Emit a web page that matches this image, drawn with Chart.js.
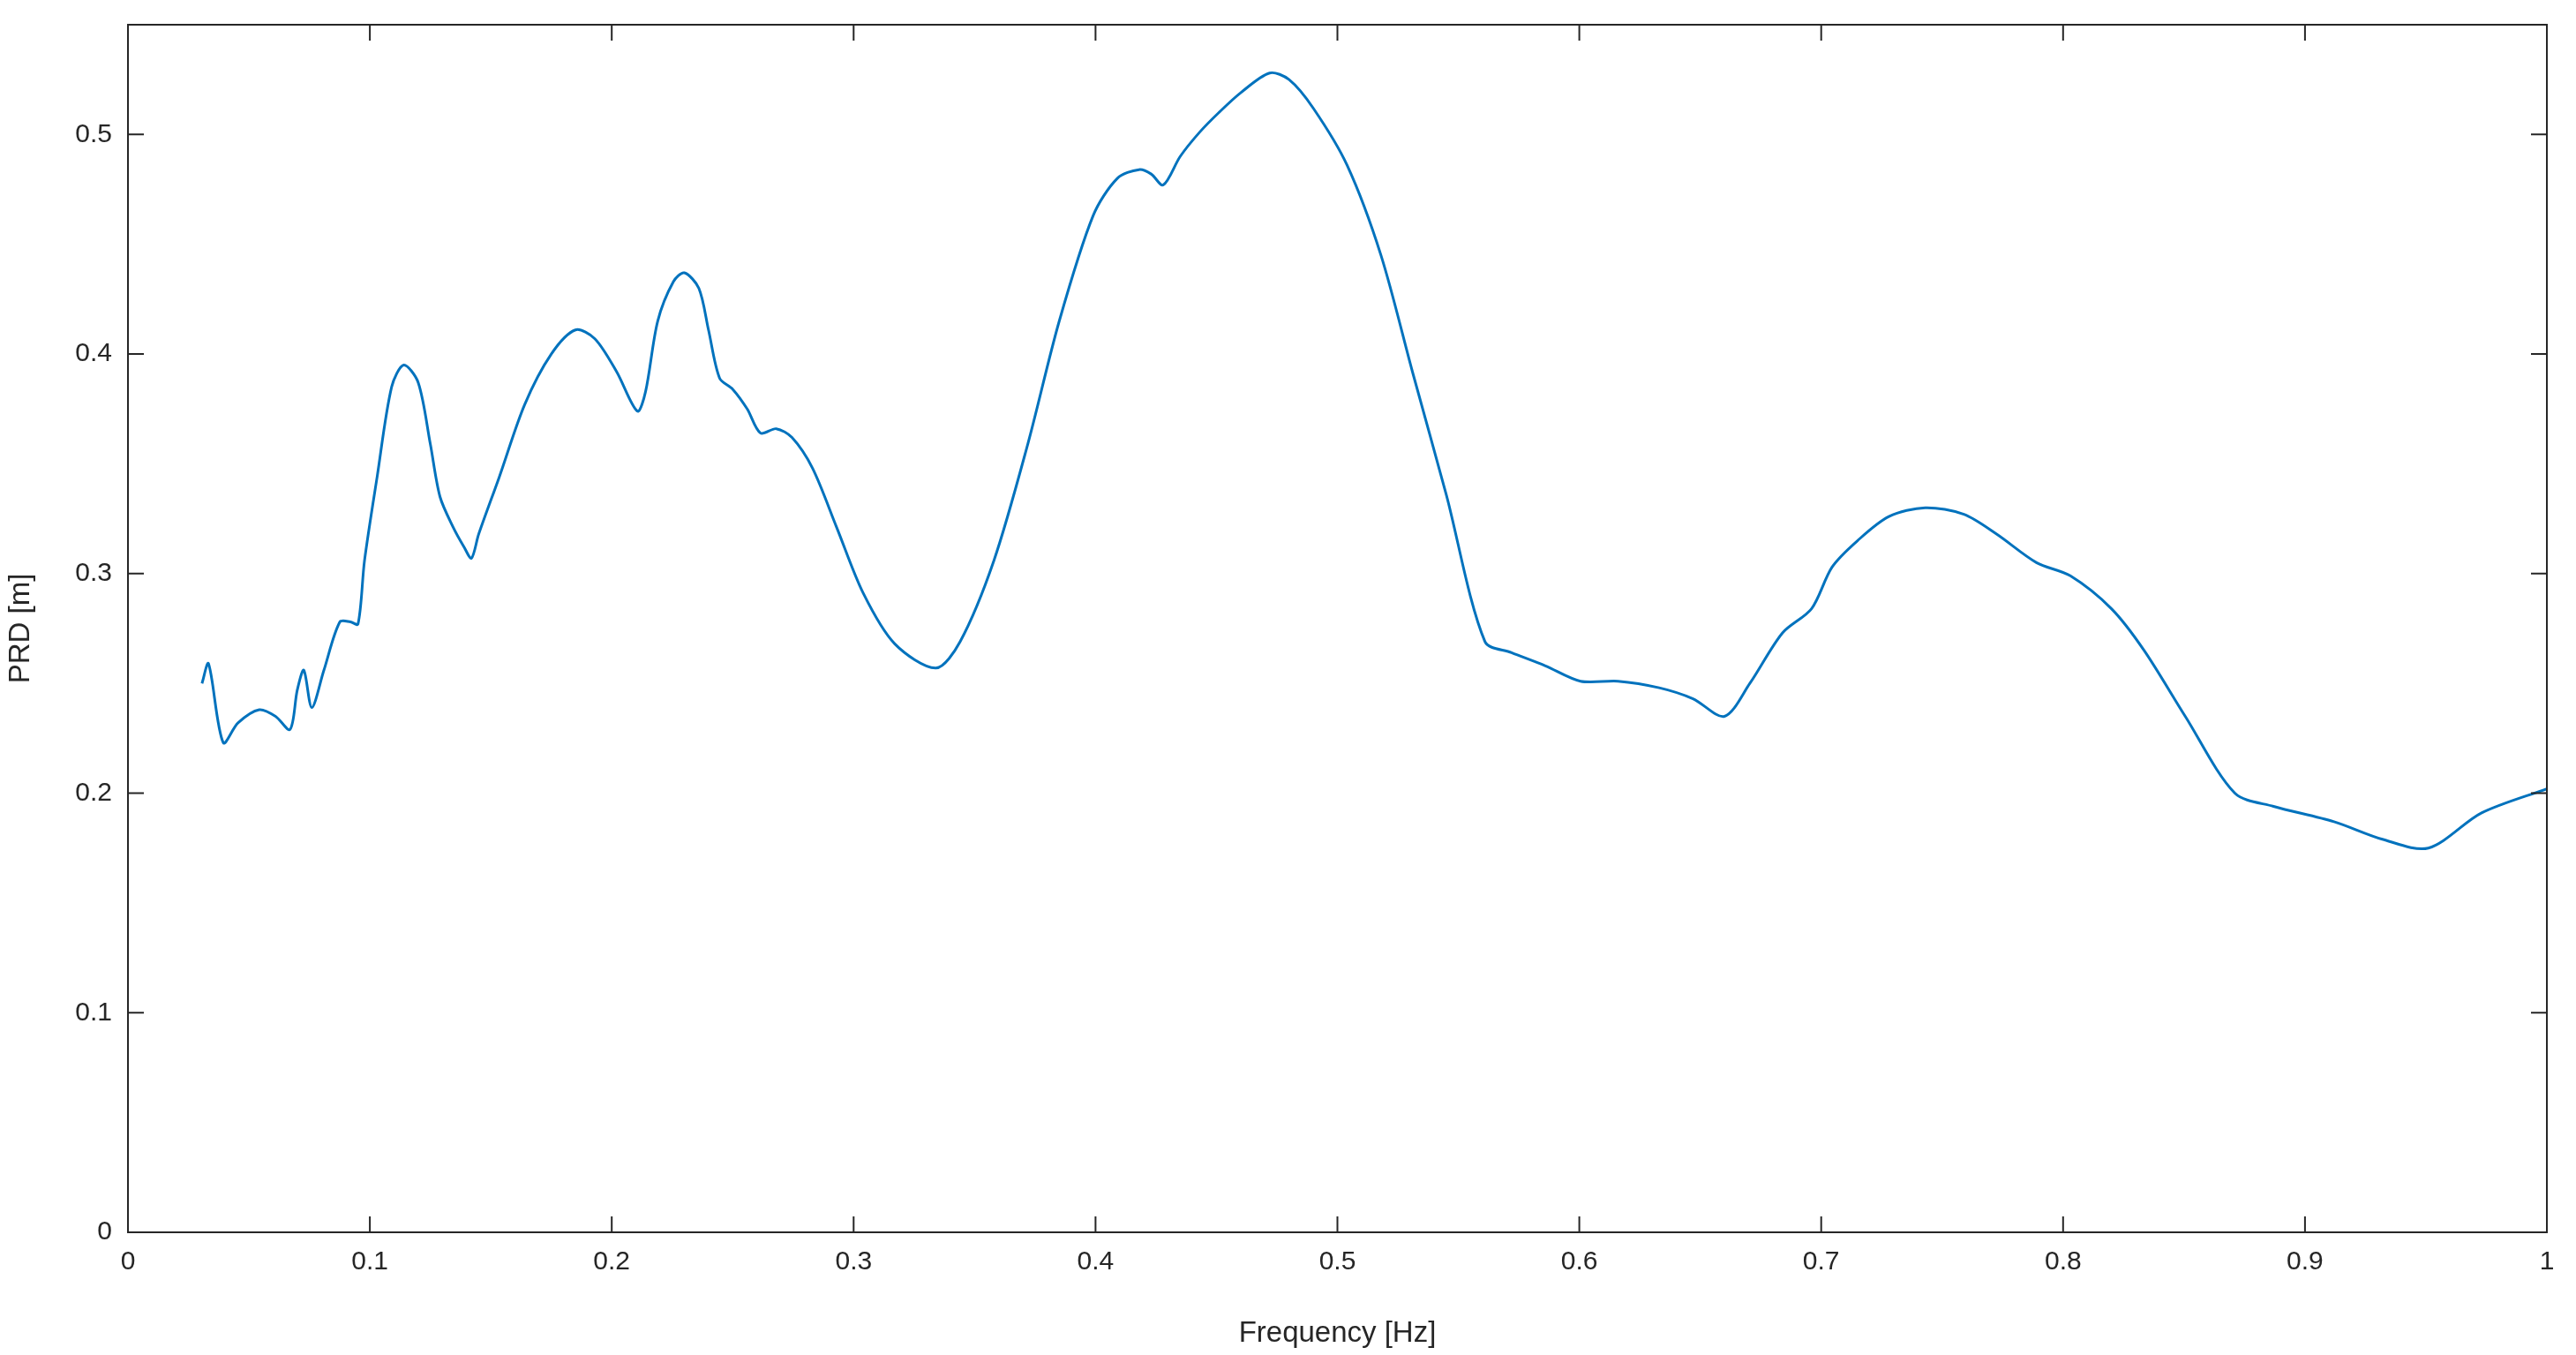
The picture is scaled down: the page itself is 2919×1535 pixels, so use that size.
<!DOCTYPE html>
<html><head><meta charset="utf-8">
<script src="https://cdn.jsdelivr.net/npm/chart.js@4/dist/chart.umd.min.js"></script>
<style>html,body{margin:0;background:#fff}#c{display:block}</style>
</head><body><canvas id="c" width="2919" height="1535"></canvas>
<script>
// frequency [Hz] and PRD [m]
const freq = [0.0306,0.0333,0.0394,0.0455,0.0543,0.061,0.067,0.070,0.0727,0.076,0.081,0.0876,0.092,0.0951,0.0978,0.103,0.109,0.114,0.120,0.125,0.129,0.1345,0.139,0.142,0.145,0.1535,0.164,0.175,0.185,0.193,0.202,0.2106,0.214,0.219,0.2255,0.230,0.236,0.240,0.2446,0.250,0.256,0.2615,0.268,0.2745,0.283,0.293,0.304,0.317,0.334,0.344,0.358,0.372,0.385,0.399,0.409,0.418,0.423,0.428,0.435,0.443,0.451,0.460,0.472,0.480,0.490,0.504,0.518,0.531,0.545,0.561,0.572,0.586,0.6005,0.616,0.633,0.647,0.660,0.6705,0.684,0.696,0.7045,0.715,0.728,0.743,0.759,0.7725,0.789,0.803,0.820,0.8335,0.8505,0.871,0.887,0.912,0.932,0.951,0.973,1.0];
const prd = [0.250,0.259,0.223,0.232,0.238,0.235,0.229,0.247,0.256,0.239,0.256,0.278,0.278,0.277,0.306,0.344,0.385,0.395,0.387,0.359,0.335,0.321,0.312,0.307,0.318,0.344,0.377,0.400,0.411,0.407,0.392,0.374,0.383,0.415,0.433,0.437,0.430,0.411,0.389,0.384,0.375,0.364,0.366,0.362,0.348,0.321,0.291,0.268,0.257,0.269,0.306,0.359,0.415,0.463,0.480,0.484,0.482,0.477,0.490,0.501,0.510,0.519,0.528,0.525,0.512,0.486,0.445,0.392,0.336,0.269,0.264,0.258,0.251,0.251,0.248,0.243,0.235,0.250,0.273,0.284,0.303,0.315,0.326,0.330,0.327,0.318,0.305,0.299,0.284,0.265,0.235,0.200,0.194,0.187,0.179,0.175,0.191,0.202];
const xTicks = [0,0.1,0.2,0.3,0.4,0.5,0.6,0.7,0.8,0.9,1];
const yTicks = [0,0.1,0.2,0.3,0.4,0.5];

const font = {family:'"Liberation Sans", Arial, sans-serif', size:30};
const frame = {
  id:'frame',
  afterDraw(chart){
    const {ctx, chartArea:a, scales:{x,y}} = chart;
    ctx.save();
    ctx.strokeStyle='#262626'; ctx.lineWidth=2;
    ctx.strokeRect(a.left,a.top,a.right-a.left,a.bottom-a.top);
    const L=18;
    ctx.beginPath();
    xTicks.forEach(v=>{const p=x.getPixelForValue(v);ctx.moveTo(p,a.bottom);ctx.lineTo(p,a.bottom-L);ctx.moveTo(p,a.top);ctx.lineTo(p,a.top+L);});
    yTicks.forEach(v=>{const p=y.getPixelForValue(v);ctx.moveTo(a.left,p);ctx.lineTo(a.left+L,p);ctx.moveTo(a.right,p);ctx.lineTo(a.right-L,p);});
    ctx.stroke();
    ctx.restore();
  }
};

new Chart(document.getElementById('c'), {
  type:'line',
  data:{datasets:[{data:freq.map((f,i)=>({x:f,y:prd[i]})),borderColor:'#0072BD',borderWidth:3,pointRadius:0,tension:0.3}]},
  options:{
    responsive:false, animation:false,
    layout:{padding:{top:26,right:33,left:0,bottom:0}},
    plugins:{legend:{display:false},tooltip:{enabled:false}},
    scales:{
      x:{type:'linear',min:0,max:1,
        afterBuildTicks:s=>{s.ticks=xTicks.map(v=>({value:v}));},
        afterFit:s=>{s.height=139;},
        grid:{display:false},border:{display:false},
        ticks:{font,color:'#262626',padding:8,maxRotation:0,callback:v=>String(v)},
        title:{display:true,text:'Frequency [Hz]',font:{...font,size:33},color:'#262626',padding:{top:4}}},
      y:{min:0,max:0.55,
        afterBuildTicks:s=>{s.ticks=yTicks.map(v=>({value:v}));},
        afterFit:s=>{s.width=145;},
        grid:{display:false},border:{display:false},
        ticks:{font,color:'#262626',padding:10,callback:v=>String(v)},
        title:{display:true,text:'PRD [m]',font:{...font,size:33},color:'#262626',padding:{bottom:8}}}
    }
  },
  plugins:[frame]
});
</script></body></html>
